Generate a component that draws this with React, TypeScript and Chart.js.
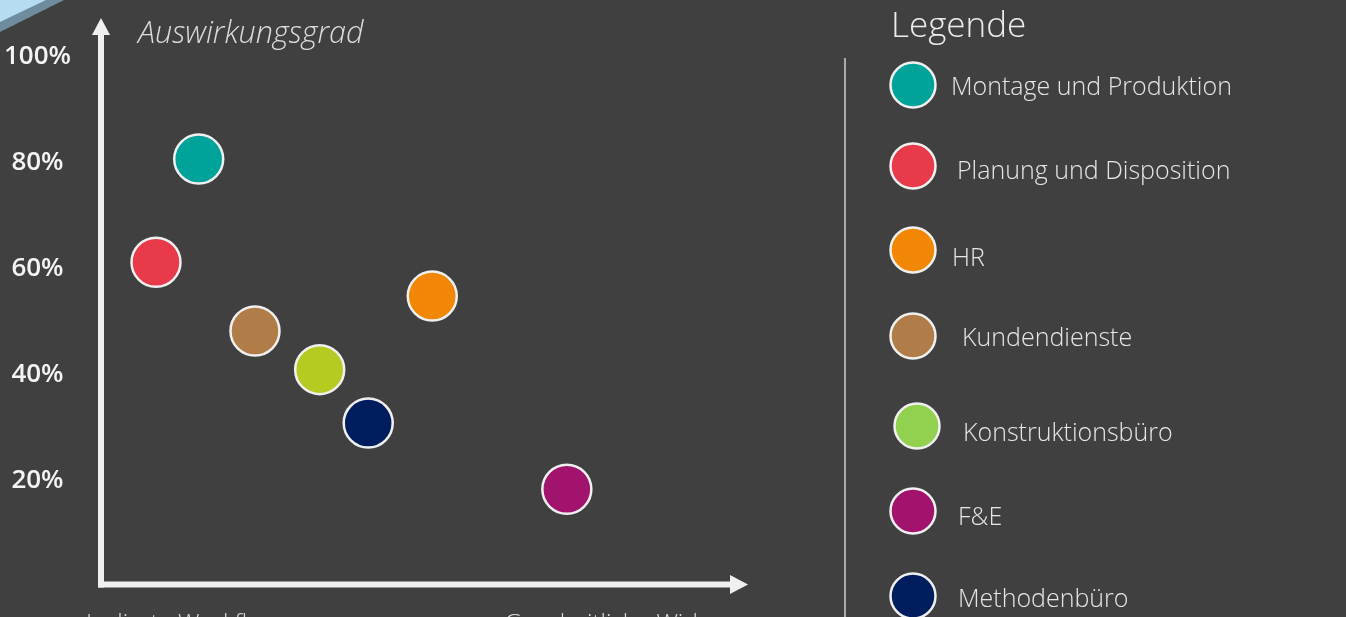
import React, { useEffect, useRef } from 'react';
import { Chart, registerables } from 'chart.js';

Chart.register(...registerables);

// ---------- data ----------
const categories = [
  'Montage und Produktion',
  'Planung und Disposition',
  'HR',
  'Kundendienste',
  'Konstruktionsbüro',
  'F&E',
  'Methodenbüro',
];
const xValues = [15.1, 8.5, 51.2, 23.8, 33.8, 72.0, 41.3];
const yValues = [80.7, 61.2, 54.8, 48.2, 40.9, 18.3, 30.8];
const pointColors = ['#00A39A', '#E83A4A', '#F28705', '#B07C48', '#B5CB22', '#A1136D', '#001E5E'];
const legendColors = ['#00A39A', '#E83A4A', '#F28705', '#B07C48', '#92D050', '#A1136D', '#001E5E'];
const yTickValues = [20, 40, 60, 80, 100];
const yAxisTitle = 'Auswirkungsgrad';
const legendTitle = 'Legende';
const xAxisLabels = ['Isolierte Workflows', 'Ganzheitliche Wirkung'];

// ---------- layout ----------
const W = 1346;
const H = 617;
const BG = '#404040';
const LIGHT = '#f0f0f0';
const legendLayout = {
  circleX: [913, 913, 913, 913, 917, 913, 913],
  circleY: [85, 166, 250, 336, 426, 511, 596],
  textX: [951, 957, 952, 962, 963, 958, 958],
  textY: [86, 170, 257, 337, 432, 516, 598],
};

const decorPlugin = {
  id: 'decor',
  beforeDraw(chart: any) {
    const ctx = chart.ctx as CanvasRenderingContext2D;
    ctx.save();
    ctx.fillStyle = BG;
    ctx.fillRect(0, 0, W, H);
    // corner decoration
    ctx.fillStyle = '#6f8c9e';
    ctx.beginPath();
    ctx.moveTo(0, 0);
    ctx.lineTo(64, 0);
    ctx.lineTo(0, 32);
    ctx.closePath();
    ctx.fill();
    ctx.fillStyle = '#b5dcf0';
    ctx.beginPath();
    ctx.moveTo(0, 0);
    ctx.lineTo(46, 0);
    ctx.lineTo(0, 22);
    ctx.closePath();
    ctx.fill();
    ctx.restore();
  },
  afterDatasetsDraw(chart: any) {
    const ctx = chart.ctx as CanvasRenderingContext2D;
    const area = chart.chartArea;
    const yScale = chart.scales.y;
    const x0 = area.left;
    const y0 = yScale.getPixelForValue(0) - 1.5;
    ctx.save();
    // y axis arrow
    ctx.strokeStyle = LIGHT;
    ctx.fillStyle = LIGHT;
    ctx.lineWidth = 6;
    ctx.lineCap = 'butt';
    ctx.beginPath();
    ctx.moveTo(x0, y0 + 3);
    ctx.lineTo(x0, 34);
    ctx.stroke();
    ctx.beginPath();
    ctx.moveTo(x0, 18);
    ctx.lineTo(x0 - 9, 35);
    ctx.lineTo(x0 + 9, 35);
    ctx.closePath();
    ctx.fill();
    // x axis arrow
    ctx.beginPath();
    ctx.moveTo(x0 - 3, y0);
    ctx.lineTo(731, y0);
    ctx.stroke();
    ctx.beginPath();
    ctx.moveTo(748, y0);
    ctx.lineTo(730, y0 - 9.5);
    ctx.lineTo(730, y0 + 9.5);
    ctx.closePath();
    ctx.fill();

    // axis title
    ctx.fillStyle = '#dcdcdc';
    ctx.font = 'italic 300 30.6px "Open Sans"';
    ctx.textAlign = 'left';
    ctx.textBaseline = 'alphabetic';
    ctx.fillText(yAxisTitle, 138, 43);

    // bottom labels (cut by the frame)
    ctx.font = '300 24px "Open Sans"';
    ctx.fillStyle = '#dcdcdc';
    ctx.fillText(xAxisLabels[0], 86, 631);
    ctx.textAlign = 'right';
    ctx.fillText(xAxisLabels[1], 745, 631);

    // separator
    ctx.strokeStyle = '#cfcfcf';
    ctx.lineWidth = 1.5;
    ctx.beginPath();
    ctx.moveTo(845, 58);
    ctx.lineTo(845, H);
    ctx.stroke();

    // legend
    ctx.textAlign = 'left';
    ctx.fillStyle = '#ececec';
    ctx.font = '300 35px "Open Sans"';
    ctx.fillText(legendTitle, 891, 37);
    ctx.font = '300 25px "Open Sans"';
    categories.forEach((name, i) => {
      ctx.beginPath();
      ctx.arc(legendLayout.circleX[i], legendLayout.circleY[i], 22.5, 0, Math.PI * 2);
      ctx.fillStyle = legendColors[i];
      ctx.fill();
      ctx.lineWidth = 2.5;
      ctx.strokeStyle = LIGHT;
      ctx.stroke();
      ctx.fillStyle = '#e6e6e6';
      ctx.fillText(name, legendLayout.textX[i], legendLayout.textY[i] + 9);
    });
    ctx.restore();
  },
};

export default function App() {
  const ref = useRef<HTMLCanvasElement | null>(null);

  useEffect(() => {
    if (!ref.current) return;
    const chart = new Chart(ref.current, {
      type: 'scatter',
      data: {
        datasets: categories.map((name, i) => ({
          label: name,
          data: [{ x: xValues[i], y: yValues[i] }],
          backgroundColor: pointColors[i],
          borderColor: LIGHT,
          borderWidth: 2.5,
          pointRadius: 24.5,
          pointHoverRadius: 24.5,
          pointHoverBorderWidth: 2.5,
          clip: false as any,
        })),
      },
      options: {
        responsive: false,
        animation: false,
        devicePixelRatio: 1,
        layout: { padding: { left: 0, right: W - 748, top: 57, bottom: 31 } },
        plugins: { legend: { display: false }, tooltip: { enabled: false } },
        events: [],
        scales: {
          x: { type: 'linear', min: 0, max: 100, display: false },
          y: {
            type: 'linear',
            min: 0,
            max: 100,
            afterFit: (axis: any) => {
              axis.width = 101;
              axis.paddingTop = 0;
              axis.paddingBottom = 0;
            },
            afterBuildTicks: (axis: any) => {
              axis.ticks = yTickValues.map((v) => ({ value: v }));
            },
            grid: { display: false, drawTicks: false },
            border: { display: false },
            ticks: {
              crossAlign: 'center',
              padding: 30,
              color: '#f4f4f4',
              font: { family: '"Open Sans"', size: 26, weight: '600' },
              callback: (v: any) => `${v}%`,
            },
          },
        },
      },
      plugins: [decorPlugin],
    });
    return () => chart.destroy();
  }, []);

  return (
    <div style={{ position: 'fixed', left: 0, top: 0, width: W, height: H, background: BG, overflow: 'hidden' }}>
      <canvas ref={ref} width={W} height={H} style={{ width: W, height: H, display: 'block' }} />
    </div>
  );
}
